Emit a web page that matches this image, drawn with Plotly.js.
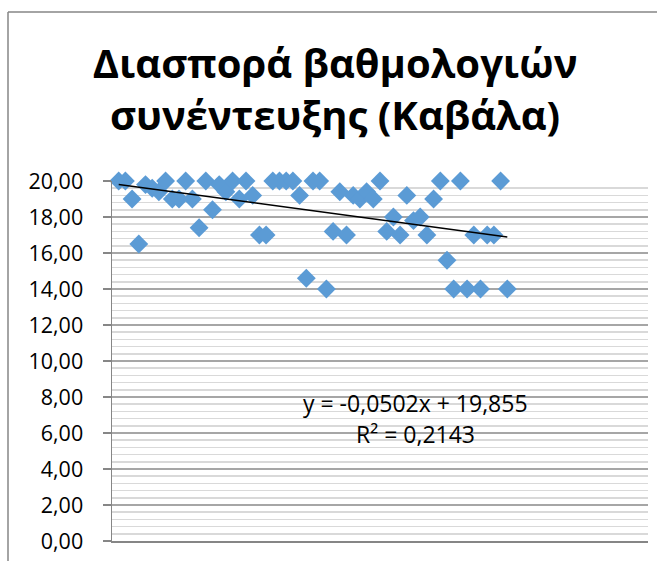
<!DOCTYPE html>
<html>
<head>
<meta charset="utf-8">
<script src="https://cdn.plot.ly/plotly-3.0.1.min.js"></script>
<style>
  html, body { margin: 0; padding: 0; background: #ffffff; }
  #chart { width: 657px; height: 561px; }
</style>
</head>
<body>
<div id="chart"></div>
<script>
// Scores of interviews (Kavala), one per candidate, in order
const candidateIndex = [
  1, 2, 3, 4, 5, 6, 7, 8, 9, 10,
  11, 12, 13, 14, 15, 16, 17, 18, 19, 20,
  21, 22, 23, 24, 25, 26, 27, 28, 29, 30,
  31, 32, 33, 34, 35, 36, 37, 38, 39, 40,
  41, 42, 43, 44, 45, 46, 47, 48, 49, 50,
  51, 52, 53, 54, 55, 56, 57, 58, 59
];
const scores = [
  20.0, 20.0, 19.0, 16.5, 19.8, 19.6, 19.4, 20.0, 19.0, 19.0,
  20.0, 19.0, 17.4, 20.0, 18.4, 19.8, 19.4, 20.0, 19.0, 20.0,
  19.2, 17.0, 17.0, 20.0, 20.0, 20.0, 20.0, 19.2, 14.6, 20.0,
  20.0, 14.0, 17.2, 19.4, 17.0, 19.2, 19.0, 19.4, 19.0, 20.0,
  17.2, 18.0, 17.0, 19.2, 17.8, 18.0, 17.0, 19.0, 20.0, 15.6,
  14.0, 20.0, 14.0, 17.0, 14.0, 17.0, 17.0, 20.0, 14.0
];
// Linear trendline shown on the chart
const trendSlope = -0.0502;
const trendIntercept = 19.855;
const trendLabel = "y = -0,0502x + 19,855";
const r2Label = "R² = 0,2143";
const chartTitle = "Διασπορά βαθμολογιών<br>συνέντευξης (Καβάλα)";

const xMin = Math.min(...candidateIndex);
const xMax = Math.max(...candidateIndex);
const trendX = [xMin, xMax];
const trendY = trendX.map(x => trendSlope * x + trendIntercept);

const axisGray = '#868686';
const fontFam = '"Open Sans", "Noto Sans", sans-serif';

const data = [
  {
    type: 'scatter',
    mode: 'markers',
    x: candidateIndex,
    y: scores,
    marker: { symbol: 'diamond', size: 14.5, color: '#5b9bd5', line: { width: 0 } },
    cliponaxis: false,
    hoverinfo: 'x+y',
    showlegend: false
  },
  {
    type: 'scatter',
    mode: 'lines',
    x: trendX,
    y: trendY,
    line: { color: '#000000', width: 1.5 },
    cliponaxis: false,
    hoverinfo: 'skip',
    showlegend: false
  }
];

const layout = {
  width: 657,
  height: 561,
  paper_bgcolor: '#ffffff',
  plot_bgcolor: '#ffffff',
  separators: ',.',
  margin: { l: 112, r: 9, t: 181, b: 20, pad: 0 },
  font: { family: fontFam, color: '#000000', size: 22 },
  title: {
    text: chartTitle,
    font: { family: fontFam, size: 40, color: '#000000', weight: 'bold' },
    xref: 'container', yref: 'container',
    x: 0.51, xanchor: 'center',
    y: 1 - 78 / 561, yanchor: 'middle'
  },
  xaxis: {
    range: [0, 80],
    showgrid: false,
    zeroline: false,
    showline: true,
    linecolor: axisGray,
    linewidth: 1.5,
    showticklabels: false,
    ticks: '',
    fixedrange: true
  },
  yaxis: {
    range: [0, 20],
    dtick: 2,
    tick0: 0,
    tickformat: '.2f',
    ticks: 'outside',
    ticklen: 8,
    tickwidth: 1.5,
    tickcolor: axisGray,
    ticklabelstandoff: 15,
    showline: true,
    linecolor: axisGray,
    linewidth: 1.5,
    zeroline: false,
    showgrid: true,
    gridcolor: '#a6a6a6',
    gridwidth: 1.5,
    minor: { dtick: 0.4, showgrid: true, gridcolor: '#d9d9d9', gridwidth: 1.5, ticks: '' },
    tickfont: { family: fontFam, size: 21.5, color: '#000000' },
    fixedrange: true
  },
  annotations: [
    {
      text: trendLabel,
      xref: 'paper', yref: 'paper',
      x: (415 - 112) / 536, y: (541 - 403) / 360,
      xanchor: 'center', yanchor: 'middle',
      showarrow: false,
      font: { family: fontFam, size: 23, color: '#000000' }
    },
    {
      text: r2Label,
      xref: 'paper', yref: 'paper',
      x: (415 - 112) / 536, y: (541 - 434) / 360,
      xanchor: 'center', yanchor: 'middle',
      showarrow: false,
      font: { family: fontFam, size: 23, color: '#000000' }
    }
  ],
  shapes: [
    { type: 'line', xref: 'paper', yref: 'paper',
      x0: (8 - 112) / 536, x1: (8 - 112) / 536, y0: (541 - 12) / 360, y1: -0.2,
      line: { color: axisGray, width: 1.5 } },
    { type: 'line', xref: 'paper', yref: 'paper',
      x0: (8 - 112) / 536, x1: 1.2, y0: (541 - 12) / 360, y1: (541 - 12) / 360,
      line: { color: axisGray, width: 1.5 } }
  ]
};

Plotly.newPlot('chart', data, layout, { displayModeBar: false, staticPlot: true });
</script>
</body>
</html>
